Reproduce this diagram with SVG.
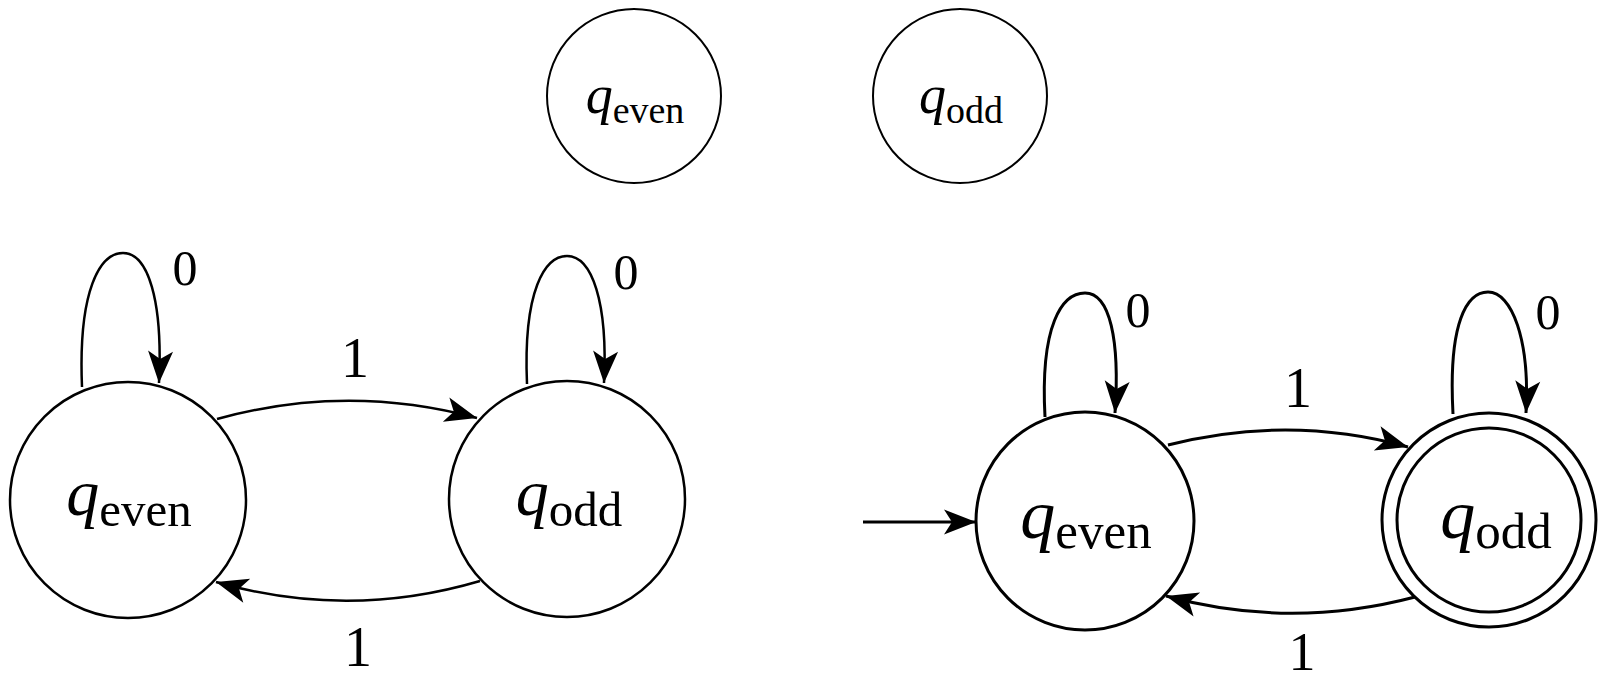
<svg xmlns="http://www.w3.org/2000/svg" width="1598" height="682" viewBox="0 0 1598 682">
<style>
.bg{fill:#fff}
.st{fill:#fff;stroke:#000}
.t1{stroke-width:2}
.t2{stroke-width:2.5}
.t3{stroke-width:3}
.e{fill:none;stroke:#000}
.lbl{font-family:"Liberation Serif","Times New Roman",serif;fill:#000;text-anchor:middle}
.q{font-style:italic}
</style>
<defs>
<marker id="ah" markerUnits="userSpaceOnUse" markerWidth="40" markerHeight="30" viewBox="-34 -15 40 30" refX="0" refY="0" orient="auto" overflow="visible">
<path d="M0,0 L-32,-12.5 L-24,0 L-32,12.5 Z" fill="#000"/>
</marker>
</defs>
<rect class="bg" x="0" y="0" width="1598" height="682"/>

<g id="top-q-even">
<circle class="st t1" cx="634" cy="96" r="87"/>
<text class="lbl" x="635" y="113"><tspan class="q" font-size="54">q</tspan><tspan font-size="38" dy="10">even</tspan></text>
</g>
<g id="top-q-odd">
<circle class="st t1" cx="960" cy="96" r="87"/>
<text class="lbl" x="961" y="113"><tspan class="q" font-size="54">q</tspan><tspan font-size="38" dy="10">odd</tspan></text>
</g>

<g id="connectors">
<g class="e t2">
<path d="M82,387 C78,290 100,253 123,253 C148,253 163,300 159,383" marker-end="url(#ah)"/>
<path d="M527,384 C523,290 545,256 567,256 C592,256 608,302 604,383" marker-end="url(#ah)"/>
<path d="M217,419 Q347,383 477,418" marker-end="url(#ah)"/>
<path d="M480,581 Q348,620 216,582" marker-end="url(#ah)"/>
</g>
<g class="e t3">
<path d="M863,522 L976,522" marker-end="url(#ah)"/>
<path d="M1045,417 C1040,325 1062,293 1085,293 C1110,293 1120,340 1115,413" marker-end="url(#ah)"/>
<path d="M1453,414 C1448,322 1467,292 1488,292 C1512,292 1530,340 1526,413" marker-end="url(#ah)"/>
<path d="M1168,445 Q1290,414 1408,447" marker-end="url(#ah)"/>
<path d="M1415,597 Q1290,630 1166,596" marker-end="url(#ah)"/>
</g>
<text class="lbl" x="185" y="285" font-size="50">0</text>
<text class="lbl" x="626" y="289" font-size="50">0</text>
<text class="lbl" x="355" y="377" font-size="56">1</text>
<text class="lbl" x="358" y="666" font-size="56">1</text>
<text class="lbl" x="1138" y="327" font-size="50">0</text>
<text class="lbl" x="1548" y="329" font-size="50">0</text>
<text class="lbl" x="1298" y="407" font-size="56">1</text>
<text class="lbl" x="1302" y="670" font-size="54">1</text>
</g>

<g id="left-q-even">
<circle class="st t2" cx="128" cy="500" r="118"/>
<text class="lbl" x="129" y="515"><tspan class="q" font-size="66">q</tspan><tspan font-size="49" dy="11">even</tspan></text>
</g>
<g id="left-q-odd">
<circle class="st t2" cx="567" cy="499" r="118"/>
<text class="lbl" x="569" y="515"><tspan class="q" font-size="66">q</tspan><tspan font-size="49" dy="11">odd</tspan></text>
</g>
<g id="right-q-even">
<circle class="st t3" cx="1085" cy="521" r="109"/>
<text class="lbl" x="1086" y="538"><tspan class="q" font-size="70">q</tspan><tspan font-size="51" dy="10">even</tspan></text>
</g>
<g id="right-q-odd">
<circle class="st t3" cx="1489" cy="520" r="107"/>
<circle class="e t3" cx="1489" cy="520" r="92"/>
<text class="lbl" x="1496" y="538"><tspan class="q" font-size="70">q</tspan><tspan font-size="51" dy="10">odd</tspan></text>
</g>
</svg>
